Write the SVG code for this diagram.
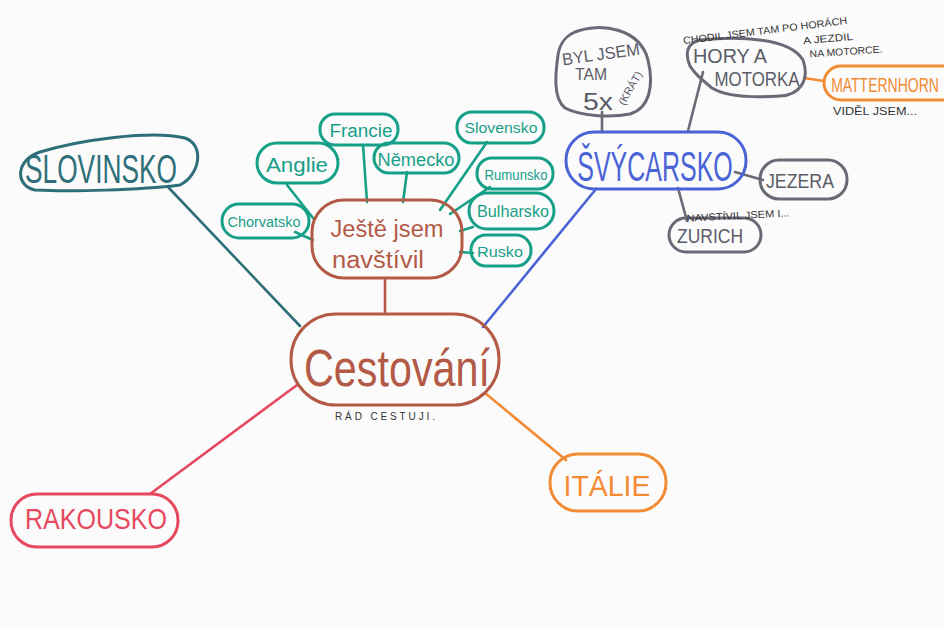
<svg xmlns="http://www.w3.org/2000/svg" width="944" height="630" viewBox="0 0 944 630">
<style>
text{font-family:"Liberation Sans","DejaVu Sans",sans-serif;text-anchor:middle}
.sh{fill:none;stroke-width:3;stroke-linecap:round;stroke-linejoin:round}
.ln{fill:none;stroke-width:2.6;stroke-linecap:round}
.br{stroke:#b35a46}.gr{stroke:#17a088}.dt{stroke:#2f6f7a}.rd{stroke:#e6495f}.or{stroke:#f38b35}.bl{stroke:#4a63d6}.gy{stroke:#6a6a76}
.tbr{fill:#b35a46}.tgr{fill:#17a088}.tdt{fill:#2f6f7a}.trd{fill:#e6495f}.tor{fill:#f38b35}.tbl{fill:#4a63d6}.tgy{fill:#5c5c68}
.note{fill:#333;font-size:10px}
</style>
<rect width="944" height="630" fill="#fbfbfb"/>
<g id="connectors">
<line class="ln br" x1="385" y1="313" x2="385" y2="278"/>
<line class="ln gr" x1="295" y1="232" x2="313" y2="240"/>
<line class="ln gr" x1="287" y1="185" x2="313" y2="218"/>
<line class="ln gr" x1="363" y1="145" x2="367" y2="202"/>
<line class="ln gr" x1="407" y1="172" x2="403" y2="202"/>
<line class="ln gr" x1="487" y1="142" x2="440" y2="210"/>
<line class="ln gr" x1="490" y1="187" x2="450" y2="214"/>
<line class="ln gr" x1="473" y1="227" x2="460" y2="231"/>
<line class="ln gr" x1="473" y1="253" x2="460" y2="252"/>
<line class="ln dt" x1="168" y1="187" x2="300" y2="326"/>
<line class="ln rd" x1="150" y1="494" x2="297" y2="385"/>
<line class="ln or" x1="566" y1="460" x2="485" y2="393"/>
<line class="ln bl" x1="596" y1="189" x2="483" y2="327"/>
<line class="ln gy" x1="602" y1="112" x2="602" y2="132"/>
<line class="ln gy" x1="703" y1="72" x2="688" y2="131"/>
<line class="ln or" x1="804" y1="78" x2="824" y2="81"/>
<line class="ln gy" x1="735" y1="172" x2="763" y2="180"/>
<line class="ln gy" x1="678" y1="188" x2="687" y2="221"/>
</g>
<g id="cestovani">
<rect class="sh br" x="291" y="314" width="208" height="91" rx="45"/>
<text class="tbr" x="397" y="386" font-size="52" textLength="186" lengthAdjust="spacingAndGlyphs">Cestování</text>
<text class="note" x="385" y="420" textLength="100" lengthAdjust="spacing">RÁD  CESTUJI.</text>
</g>
<g id="jeste">
<rect class="sh br" x="312" y="200" width="150" height="78" rx="32"/>
<text class="tbr" x="387" y="237" font-size="23" textLength="113" lengthAdjust="spacingAndGlyphs">Ještě jsem</text>
<text class="tbr" x="378" y="268" font-size="23" textLength="92" lengthAdjust="spacingAndGlyphs">navštívil</text>
</g>
<g id="chorvatsko">
<rect class="sh gr" x="222" y="204" width="87" height="34" rx="17"/>
<text class="tgr" x="264" y="227" font-size="14" textLength="73" lengthAdjust="spacingAndGlyphs">Chorvatsko</text>
</g>
<g id="anglie">
<rect class="sh gr" x="257" y="143" width="81" height="40" rx="20"/>
<text class="tgr" x="297" y="172" font-size="21" textLength="62" lengthAdjust="spacingAndGlyphs">Anglie</text>
</g>
<g id="francie">
<rect class="sh gr" x="320" y="114" width="78" height="31" rx="15"/>
<text class="tgr" x="361" y="137" font-size="18" textLength="63" lengthAdjust="spacingAndGlyphs">Francie</text>
</g>
<g id="nemecko">
<rect class="sh gr" x="374" y="143" width="85" height="30" rx="15"/>
<text class="tgr" x="416" y="166" font-size="18" textLength="77" lengthAdjust="spacingAndGlyphs">Německo</text>
</g>
<g id="slovensko">
<rect class="sh gr" x="457" y="112" width="87" height="31" rx="15"/>
<text class="tgr" x="501" y="133" font-size="15" textLength="73" lengthAdjust="spacingAndGlyphs">Slovensko</text>
</g>
<g id="rumunsko">
<rect class="sh gr" x="477" y="158" width="76" height="31" rx="15"/>
<text class="tgr" x="516" y="180" font-size="15" textLength="63" lengthAdjust="spacingAndGlyphs">Rumunsko</text>
</g>
<g id="bulharsko">
<rect class="sh gr" x="469" y="193" width="85" height="36" rx="18"/>
<text class="tgr" x="513" y="217" font-size="17" textLength="72" lengthAdjust="spacingAndGlyphs">Bulharsko</text>
</g>
<g id="rusko">
<rect class="sh gr" x="471" y="235" width="60" height="31" rx="15"/>
<text class="tgr" x="500" y="257" font-size="15" textLength="46" lengthAdjust="spacingAndGlyphs">Rusko</text>
</g>
<g id="slovinsko">
<path class="sh dt" d="M40,152 C80,140 150,130 185,138 C205,145 200,175 180,185 C140,190 70,192 35,190 C15,186 15,160 40,152 Z"/>
<text class="tdt" x="101" y="183" font-size="40" textLength="152" lengthAdjust="spacingAndGlyphs">SLOVINSKO</text>
</g>
<g id="rakousko">
<rect class="sh rd" x="11" y="494" width="167" height="53" rx="26"/>
<text class="trd" x="96" y="529" font-size="30" textLength="142" lengthAdjust="spacingAndGlyphs">RAKOUSKO</text>
</g>
<g id="italie">
<rect class="sh or" x="550" y="454" width="116" height="57" rx="28"/>
<text class="tor" x="607" y="496" font-size="30" textLength="87" lengthAdjust="spacingAndGlyphs">ITÁLIE</text>
</g>
<g id="svycarsko">
<rect class="sh bl" x="566" y="132" width="180" height="57" rx="28"/>
<text class="tbl" x="0" y="0" font-size="25" transform="translate(655 181) scale(1 1.7)">ŠVÝCARSKO</text>
</g>
<g id="byl-jsem">
<path class="sh gy" d="M575,32 C600,22 640,28 648,60 C654,85 650,108 630,114 C610,118 580,116 565,108 C552,98 556,70 558,55 C560,42 566,36 575,32 Z"/>
<text class="tgy" x="601" y="60" font-size="17" textLength="78" lengthAdjust="spacingAndGlyphs" transform="rotate(-8 601 55)">BYL JSEM</text>
<text class="tgy" x="591" y="80" font-size="16" textLength="32" lengthAdjust="spacingAndGlyphs">TAM</text>
<text class="tgy" x="598" y="110" font-size="24" textLength="30" lengthAdjust="spacingAndGlyphs">5x</text>
<text class="tgy" x="630" y="92" font-size="11" transform="rotate(-60 630 88)">(KRÁT)</text>
</g>
<g id="hory">
<path class="sh gy" d="M700,40 C740,36 790,38 803,60 C810,80 800,95 780,96 C750,98 725,96 712,88 C700,78 695,74 690,66 C684,52 688,43 700,40 Z"/>
<text class="tgy" x="730" y="63" font-size="20" textLength="74" lengthAdjust="spacingAndGlyphs">HORY A</text>
<text class="tgy" x="757" y="86" font-size="20" textLength="85" lengthAdjust="spacingAndGlyphs">MOTORKA</text>
<text class="note" x="765" y="34" textLength="165" lengthAdjust="spacingAndGlyphs" transform="rotate(-7 765 30)">CHODIL JSEM TAM PO HORÁCH</text>
<text class="note" x="828" y="42" textLength="50" lengthAdjust="spacingAndGlyphs" transform="rotate(-5 828 38)">A JEZDIL</text>
<text class="note" x="846" y="55" textLength="73" lengthAdjust="spacingAndGlyphs" transform="rotate(-4 846 51)">NA MOTORCE.</text>
</g>
<g id="matternhorn">
<rect class="sh or" x="824" y="66" width="140" height="34" rx="17"/>
<text class="tor" x="0" y="0" font-size="14" transform="translate(885 92) scale(1 1.4)">MATTERNHORN</text>
<text class="note" x="875" y="115" textLength="84" lengthAdjust="spacingAndGlyphs">VIDĚL JSEM...</text>
</g>
<g id="jezera">
<rect class="sh gy" x="760" y="160" width="87" height="39" rx="19"/>
<text class="tgy" x="800" y="188" font-size="21" textLength="68" lengthAdjust="spacingAndGlyphs">JEZERA</text>
</g>
<g id="zurich">
<rect class="sh gy" x="669" y="218" width="92" height="34" rx="17"/>
<text class="tgy" x="710" y="243" font-size="20" textLength="66" lengthAdjust="spacingAndGlyphs">ZURICH</text>
<text class="note" x="738" y="219" textLength="103" lengthAdjust="spacingAndGlyphs" transform="rotate(-3 738 215)">NAVSTÍVIL JSEM I...</text>
</g>
</svg>
